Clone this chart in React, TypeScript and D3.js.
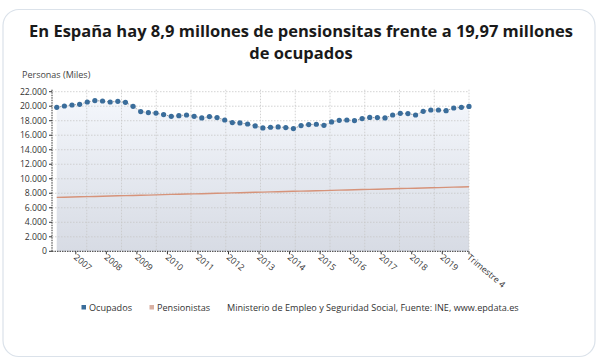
import React from 'react';
import * as d3 from 'd3';

const periodos = [
  '2006T2', '2006T3', '2006T4',
  '2007T1', '2007T2', '2007T3', '2007T4',
  '2008T1', '2008T2', '2008T3', '2008T4',
  '2009T1', '2009T2', '2009T3', '2009T4',
  '2010T1', '2010T2', '2010T3', '2010T4',
  '2011T1', '2011T2', '2011T3', '2011T4',
  '2012T1', '2012T2', '2012T3', '2012T4',
  '2013T1', '2013T2', '2013T3', '2013T4',
  '2014T1', '2014T2', '2014T3', '2014T4',
  '2015T1', '2015T2', '2015T3', '2015T4',
  '2016T1', '2016T2', '2016T3', '2016T4',
  '2017T1', '2017T2', '2017T3', '2017T4',
  '2018T1', '2018T2', '2018T3', '2018T4',
  '2019T1', '2019T2', '2019T3', '2019T4',
];

// miles de personas
const ocupados = [
  19850, 20030, 20170,
  20260, 20580, 20770, 20720,
  20580, 20670, 20540, 19990,
  19260, 19120, 19050, 18840,
  18610, 18700, 18790, 18610,
  18380, 18570, 18430, 18100,
  17740, 17690, 17550, 17280,
  17010, 17100, 17140, 17060,
  16920, 17330, 17470, 17510,
  17370, 17830, 18060, 18100,
  18020, 18290, 18450, 18430,
  18380, 18790, 19020, 18980,
  18790, 19300, 19480, 19480,
  19390, 19750, 19850, 19970,
];

const pensionistas = [
  7430, 7460, 7480,
  7510, 7540, 7560, 7590,
  7620, 7650, 7670, 7700,
  7730, 7750, 7780, 7810,
  7840, 7860, 7890, 7920,
  7940, 7970, 8000, 8020,
  8050, 8080, 8100, 8130,
  8160, 8190, 8210, 8240,
  8270, 8290, 8320, 8350,
  8370, 8400, 8430, 8460,
  8480, 8510, 8540, 8560,
  8590, 8620, 8650, 8670,
  8700, 8730, 8750, 8780,
  8810, 8840, 8860, 8890,
];

const anios = ['2007', '2008', '2009', '2010', '2011', '2012', '2013', '2014', '2015', '2016', '2017', '2018', '2019'];
const ultimaEtiqueta = 'Trimestre 4';
const yTicks = [0, 2000, 4000, 6000, 8000, 10000, 12000, 14000, 16000, 18000, 20000, 22000];

const FONT = '"Open Sans", "Noto Sans", sans-serif';
const W = 610;
const H = 364;

export default function App() {
  const x = d3.scaleLinear().domain([-0.62, periodos.length - 1]).range([52, 469]);
  const y = d3.scaleLinear().domain([0, 22000]).range([251.3, 91.7]);
  const fmt = d3.formatLocale({ decimal: ',', thousands: '.', grouping: [3], currency: ['', '€'] }).format(',d');

  const xLo = x.range()[0];
  const xHi = x.range()[1];
  const yLo = y.range()[0];
  const yHi = y.range()[1];

  // vertical grid: 12 equal divisions of the plot, not tied to the years
  const vGrid = d3.range(1, 13).map(i => xLo + ((xHi - xLo) * i) / 12);

  const area = d3.area<number>()
    .x((_, i) => x(i))
    .y0(yLo)
    .y1(d => y(d));
  const lineOcu = d3.line<number>().x((_, i) => x(i)).y(d => y(d));
  const linePen = d3.line<number>().x((_, i) => x(i)).y(d => y(d));

  const yearTicks = anios.map(a => ({ label: a, pos: x(periodos.indexOf(a + 'T1') - 0.5) }));
  const allTicks = [...yearTicks, { label: ultimaEtiqueta, pos: x(periodos.length - 1) }];

  return (
    <svg width={W} height={H} style={{ position: 'absolute', left: 0, top: 0, fontFamily: FONT }}>
      <defs>
        <linearGradient id="areaGrad" x1="0" y1="0" x2="0" y2="1">
          <stop offset="0%" stopColor="#f3f6fb" />
          <stop offset="100%" stopColor="#d7dbe4" />
        </linearGradient>
      </defs>
      <rect x={0} y={0} width={W} height={H} fill="#fff" />
      <rect x={3} y={9.5} width={592} height={347} rx={16} fill="#fff" stroke="#dbe2ea" strokeWidth={1.2} />

      <text x={301} y={37} textAnchor="middle" fontSize={16.5} fontWeight={700} fill="#1a1a1a">
        En España hay 8,9 millones de pensionsitas frente a 19,97 millones
      </text>
      <text x={301} y={59} textAnchor="middle" fontSize={16.5} fontWeight={700} fill="#1a1a1a">
        de ocupados
      </text>

      <text x={22} y={78} fontSize={9} fill="#444">Personas (Miles)</text>

      {/* area under ocupados */}
      <path d={area(ocupados) || ''} fill="url(#areaGrad)" />

      {/* grid */}
      {yTicks.filter(t => t > 0).map(t => (
        <line key={'h' + t} x1={xLo} x2={xHi} y1={y(t)} y2={y(t)} stroke="#c8c8c8" strokeWidth={0.8} strokeDasharray="1.5,1.5" />
      ))}
      {vGrid.map((gx, i) => (
        <line key={'v' + i} x1={gx} x2={gx} y1={yHi - 2} y2={yLo} stroke="#c8c8c8" strokeWidth={0.8} strokeDasharray="1.5,1.5" />
      ))}

      {/* axes */}
      <line x1={xLo} x2={xLo} y1={yHi - 2} y2={yLo} stroke="#333" strokeWidth={1} strokeDasharray="1.5,1" />
      <line x1={xLo} x2={xHi} y1={yLo} y2={yLo} stroke="#333" strokeWidth={1} strokeDasharray="1.5,1" />
      {yTicks.map(t => (
        <g key={'yt' + t}>
          <line x1={xLo - 3} x2={xLo} y1={y(t)} y2={y(t)} stroke="#333" strokeWidth={1} />
          <text x={xLo - 5} y={y(t)} dy="0.33em" textAnchor="end" fontSize={8.7} fill="#333">{fmt(t)}</text>
        </g>
      ))}
      {allTicks.map(t => (
        <g key={'xt' + t.label}>
          <line x1={t.pos} x2={t.pos} y1={yLo} y2={yLo + 3} stroke="#333" strokeWidth={1} />
          <text transform={`translate(${t.pos - 2.5},${yLo + 7}) rotate(40)`} fontSize={8.7} fill="#333">{t.label}</text>
        </g>
      ))}

      {/* pensionistas */}
      <path d={linePen(pensionistas) || ''} fill="none" stroke="#d6937a" strokeWidth={1.4} />

      {/* ocupados */}
      <path d={lineOcu(ocupados) || ''} fill="none" stroke="#9a9a9a" strokeWidth={1} strokeDasharray="1.5,1.5" />
      {ocupados.map((v, i) => (
        <circle key={'p' + i} cx={x(i)} cy={y(v)} r={2.6} fill="#3a6d9b" />
      ))}

      {/* legend */}
      <rect x={81.5} y={305} width={4.5} height={4.5} fill="#3a6d9b" />
      <text x={89} y={310.5} fontSize={9.1} fill="#333">Ocupados</text>
      <rect x={149.5} y={305} width={4.5} height={4.5} fill="#d9b0a2" />
      <text x={157} y={310.5} fontSize={9.1} fill="#333">Pensionistas</text>
      <text x={227} y={310.5} fontSize={9.1} fill="#333">Ministerio de Empleo y Seguridad Social, Fuente: INE, www.epdata.es</text>
    </svg>
  );
}
